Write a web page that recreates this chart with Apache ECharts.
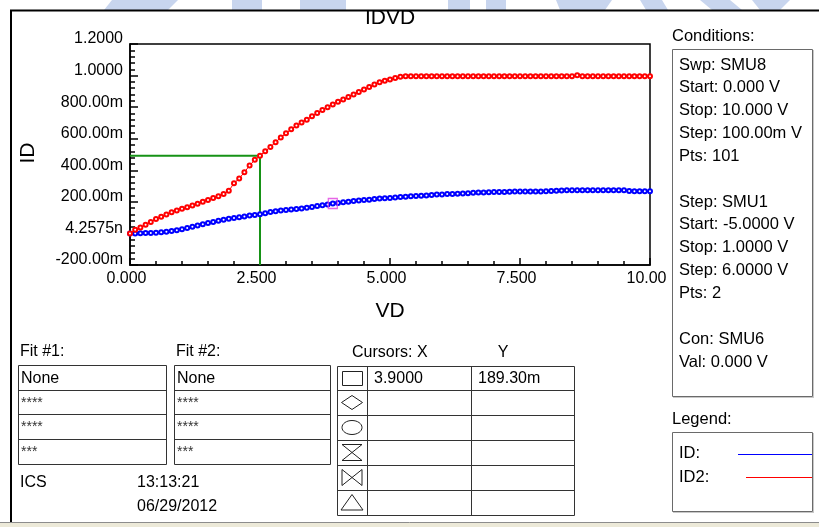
<!DOCTYPE html>
<html>
<head>
<meta charset="utf-8">
<title>IDVD</title>
<script src="https://cdn.jsdelivr.net/npm/echarts@6/dist/echarts.min.js"></script>
<style>
  html, body { margin: 0; padding: 0; background: #fff; }
  #chart { width: 819px; height: 527px; }
</style>
</head>
<body>
<div id="chart"></div>
<script>
// Drain sweep VD (V), 101 points
const vd = [0,0.1,0.2,0.3,0.4,0.5,0.6,0.7,0.8,0.9,1,1.1,1.2,1.3,1.4,1.5,1.6,1.7,1.8,1.9,
  2,2.1,2.2,2.3,2.4,2.5,2.6,2.7,2.8,2.9,3,3.1,3.2,3.3,3.4,3.5,3.6,3.7,3.8,3.9,
  4,4.1,4.2,4.3,4.4,4.5,4.6,4.7,4.8,4.9,5,5.1,5.2,5.3,5.4,5.5,5.6,5.7,5.8,5.9,
  6,6.1,6.2,6.3,6.4,6.5,6.6,6.7,6.8,6.9,7,7.1,7.2,7.3,7.4,7.5,7.6,7.7,7.8,7.9,
  8,8.1,8.2,8.3,8.4,8.5,8.6,8.7,8.8,8.9,9,9.1,9.2,9.3,9.4,9.5,9.6,9.7,9.8,9.9,10];

// Drain current ID (A), first step
const id = [0.000,0.000,0.001,0.002,0.003,0.005,0.008,0.011,0.015,0.020,
  0.027,0.035,0.043,0.051,0.058,0.066,0.073,0.080,0.086,0.093,
  0.098,0.103,0.108,0.113,0.117,0.121,0.128,0.135,0.140,0.145,
  0.149,0.152,0.155,0.158,0.163,0.168,0.174,0.179,0.184,0.1893,
  0.193,0.197,0.201,0.205,0.208,0.211,0.214,0.218,0.221,0.223,
  0.225,0.228,0.230,0.232,0.235,0.237,0.239,0.241,0.243,0.246,
  0.247,0.249,0.250,0.251,0.253,0.255,0.257,0.259,0.260,0.261,
  0.262,0.263,0.263,0.264,0.265,0.266,0.266,0.266,0.266,0.266,
  0.267,0.268,0.270,0.272,0.273,0.274,0.274,0.274,0.274,0.274,
  0.274,0.274,0.274,0.274,0.274,0.274,0.268,0.267,0.267,0.267,
  0.267];

// Drain current ID2 (A), second step (hits compliance near 1 A)
const id2 = [0.000,0.024,0.038,0.055,0.073,0.091,0.106,0.120,0.134,0.145,
  0.156,0.166,0.177,0.188,0.200,0.212,0.224,0.236,0.250,0.270,
  0.318,0.348,0.388,0.430,0.466,0.492,0.520,0.548,0.578,0.607,
  0.634,0.660,0.683,0.702,0.720,0.742,0.763,0.782,0.800,0.817,
  0.834,0.849,0.864,0.880,0.896,0.912,0.928,0.943,0.957,0.967,
  0.975,0.984,0.993,0.996,0.996,0.996,0.996,0.996,0.996,0.996,
  0.996,0.996,0.996,0.996,0.996,0.996,0.996,0.996,0.996,0.996,
  0.996,0.996,0.996,0.996,0.996,0.996,0.996,0.996,0.996,0.996,
  0.996,0.996,0.996,0.996,0.996,0.996,1.002,0.996,0.996,0.996,
  0.996,0.996,0.996,0.996,0.996,0.996,0.996,0.996,0.996,0.996,
  0.996];

const xTickLabels = ['0.000', '2.500', '5.000', '7.500', '10.00'];
const yTickLabels = ['-200.00m', '4.2575n', '200.00m', '400.00m', '600.00m', '800.00m', '1.0000', '1.2000'];

const conditionLines = ['Swp: SMU8', 'Start: 0.000 V', 'Stop: 10.000 V', 'Step: 100.00m V', 'Pts: 101', '',
  'Step: SMU1', 'Start: -5.0000 V', 'Stop: 1.0000 V', 'Step: 6.0000 V', 'Pts: 2', '',
  'Con: SMU6', 'Val: 0.000 V'];
const legendNames = ['ID', 'ID2'];
const fitTitles = ['Fit #1:', 'Fit #2:'];
const fitRows = ['None', '****', '****', '***'];
const cursorShapes = ['square', 'diamond', 'ellipse', 'hourglass', 'bowtie', 'triangle'];
const stampText = ['ICS', '13:13:21', '06/29/2012'];

const greenCursorIndex = 25;   // VD = 2.5 on ID2
const cursorIndex = 39;        // VD = 3.9 on ID

const blue = '#0000ff';
const red = '#ff0000';
const FONT = '"Liberation Sans", Arial, sans-serif';

const chart = echarts.init(document.getElementById('chart'), null, { renderer: 'canvas' });

// ---------- static panel drawing ----------
const g = [];
function txt(t, x, y, o) {
  o = o || {};
  g.push({
    type: 'text', x: x, y: y, rotation: o.rotation || 0, z: o.z || 20, silent: true,
    style: {
      text: t, fill: o.fill || '#000', font: (o.size || 16) + 'px ' + FONT,
      textAlign: o.align || 'left', align: o.align || 'left',
      textVerticalAlign: o.valign || 'middle', verticalAlign: o.valign || 'middle'
    }
  });
}
function ln(x1, y1, x2, y2, stroke, w, z) {
  g.push({ type: 'line', z: z || 20, silent: true, shape: { x1: x1, y1: y1, x2: x2, y2: y2 },
    style: { stroke: stroke, lineWidth: w || 1 } });
}
function box(x, y, w, h, stroke, lw, z) {
  g.push({ type: 'rect', z: z || 20, silent: true, shape: { x: x, y: y, width: w, height: h },
    style: { fill: 'none', stroke: stroke, lineWidth: lw || 1 } });
}
function poly(points, fill, z) {
  g.push({ type: 'polygon', z: z || 30, silent: true, shape: { points: points }, style: { fill: fill } });
}

// window frame
g.push({ type: 'rect', z: 29, silent: true, shape: { x: 0, y: 0, width: 819, height: 10 }, style: { fill: '#fff' } });
// faint logo shapes along the top edge
const wm = '#c8d5ee';
poly([[112, 0], [178, 0], [168, 10], [104, 10]], wm);
poly([[232, 0], [262, 0], [262, 10], [232, 10]], wm);
poly([[300, 0], [346, 0], [346, 10], [300, 10]], wm);
poly([[448, 0], [470, 0], [470, 10], [448, 10]], wm);
poly([[486, 0], [506, 0], [506, 10], [486, 10]], wm);
poly([[556, 0], [612, 0], [605, 10], [560, 10]], wm);
poly([[640, 0], [662, 0], [668, 10], [646, 10]], wm);
poly([[700, 0], [730, 0], [742, 10], [712, 10]], wm);
poly([[752, 0], [790, 0], [780, 10], [760, 10]], wm);
ln(10, 10.5, 819, 10.5, '#000', 2, 31);
ln(11, 10, 11, 522, '#000', 2, 31);
g.push({ type: 'rect', z: 29, silent: true, shape: { x: 0, y: 522, width: 819, height: 5 }, style: { fill: '#ece9d8' } });
ln(0, 522.5, 819, 522.5, '#8c8c8c', 1, 31);

// title and axis names
txt('IDVD', 390, 18, { size: 21, align: 'center', z: 10 });
txt('VD', 390, 311, { size: 21, align: 'center' });
txt('ID', 28, 153, { size: 21, align: 'center', rotation: Math.PI / 2 });

// conditions panel
const PANEL = 16.5;
txt('Conditions:', 672, 36, { size: PANEL });
box(672.5, 49.5, 140, 347, '#6a6a6a', 1);
ln(813.5, 50, 813.5, 398, '#c8c8c8', 1);
ln(673, 397.5, 814, 397.5, '#c8c8c8', 1);
conditionLines.forEach(function (s, i) { if (s) txt(s, 679, 65 + i * 22.85, { size: PANEL }); });

// legend panel
txt('Legend:', 672, 419, { size: PANEL });
box(672.5, 432.5, 140, 79, '#6a6a6a', 1);
ln(813.5, 433, 813.5, 513, '#c8c8c8', 1);
ln(673, 512.5, 814, 512.5, '#c8c8c8', 1);
const legendColors = [blue, red];
const legendLineStart = [738, 746];
legendNames.forEach(function (s, i) {
  const y = 453.5 + i * 23.5;
  txt(s + ':', 679, y, { size: PANEL });
  ln(legendLineStart[i], Math.round(y) + 0.5, 812, Math.round(y) + 0.5, legendColors[i], 1);
});

// fit panels
const fitX = [18, 174], fitW = [148, 156];
const rowY = [365, 390, 414, 439, 464];
fitTitles.forEach(function (t, k) {
  txt(t, fitX[k] + 2, 352);
  box(fitX[k] + 0.5, rowY[0] + 0.5, fitW[k], rowY[4] - rowY[0], '#333', 1);
  for (let r = 1; r < 4; r++) ln(fitX[k], rowY[r] + 0.5, fitX[k] + fitW[k], rowY[r] + 0.5, '#333', 1);
  fitRows.forEach(function (s, r) {
    txt(s, fitX[k] + 3, (rowY[r] + rowY[r + 1]) / 2 + 1, { size: r === 0 ? 16 : 14, fill: r === 0 ? '#000' : '#333' });
  });
});
txt(stampText[0], 20, 483);
txt(stampText[1], 137, 483);
txt(stampText[2], 137, 507);

// cursor table
const cx0 = 337, cx1 = 367, cx2 = 471, cx3 = 574;
const cRows = [366, 390, 415, 440, 465, 490, 515];
txt('Cursors: X', 352, 353);
txt('Y', 503, 353, { align: 'center' });
box(cx0 + 0.5, cRows[0] + 0.5, cx3 - cx0, cRows[6] - cRows[0], '#333', 1);
ln(cx1 + 0.5, cRows[0], cx1 + 0.5, cRows[6], '#333', 1);
ln(cx2 + 0.5, cRows[0], cx2 + 0.5, cRows[6], '#333', 1);
for (let r = 1; r < 6; r++) ln(cx0, cRows[r] + 0.5, cx3, cRows[r] + 0.5, '#333', 1);
txt(vd[cursorIndex].toFixed(4), 374, 378.5);
txt((id[cursorIndex] * 1000).toFixed(2) + 'm', 478, 378.5);
cursorShapes.forEach(function (s, r) {
  const cy = (cRows[r] + cRows[r + 1]) / 2;
  const L = 342, R = 362, C = 352;
  const st = { fill: 'none', stroke: '#222', lineWidth: 1 };
  if (s === 'square') g.push({ type: 'rect', z: 20, silent: true, shape: { x: L + 0.5, y: cy - 6.5, width: 20, height: 14 }, style: st });
  if (s === 'diamond') g.push({ type: 'polygon', z: 20, silent: true, shape: { points: [[C, cy - 7], [R + 0.5, cy], [C, cy + 7], [L - 0.5, cy]] }, style: st });
  if (s === 'ellipse') g.push({ type: 'ellipse', z: 20, silent: true, shape: { cx: C, cy: cy, rx: 10, ry: 7 }, style: st });
  if (s === 'hourglass') g.push({ type: 'polygon', z: 20, silent: true, shape: { points: [[L, cy - 8], [R, cy - 8], [L, cy + 8], [R, cy + 8]] }, style: st });
  if (s === 'bowtie') g.push({ type: 'polygon', z: 20, silent: true, shape: { points: [[L, cy - 8], [R, cy + 8], [R, cy - 8], [L, cy + 8]] }, style: st });
  if (s === 'triangle') g.push({ type: 'polygon', z: 20, silent: true, shape: { points: [[C, cy - 8], [R + 1, cy + 7.5], [L - 1, cy + 7.5]] }, style: st });
});

// ---------- plot ----------
const pair = function (arr) { return vd.map(function (x, i) { return [x, arr[i]]; }); };
const axisBlack = { color: '#000', width: 1.5 };

chart.setOption({
  backgroundColor: '#fff',
  animation: false,
  grid: {
    left: 130, top: 44, width: 520, height: 221,
    show: true, borderColor: '#000', borderWidth: 1.5, backgroundColor: 'transparent',
    containLabel: false, outerBoundsMode: 'none'
  },
  xAxis: {
    type: 'value', min: 0, max: 10, interval: 2.5,
    axisLine: { show: true, onZero: false, lineStyle: axisBlack },
    axisTick: { show: true, inside: true, length: 7, lineStyle: axisBlack },
    minorTick: { show: true, splitNumber: 5, length: 4, lineStyle: axisBlack },
    splitLine: { show: false },
    axisLabel: {
      show: true, margin: 6, color: '#000', fontSize: 16, fontFamily: FONT,
      padding: [0, 7, 0, 0], showMinLabel: true, showMaxLabel: true, hideOverlap: false,
      formatter: function (v) { return xTickLabels[Math.round(v / 2.5)]; }
    }
  },
  yAxis: {
    type: 'value', min: -0.2, max: 1.2, interval: 0.2,
    axisLine: { show: true, onZero: false, lineStyle: axisBlack },
    axisTick: { show: true, inside: true, length: 8, lineStyle: axisBlack },
    minorTick: { show: true, splitNumber: 5, length: 5, lineStyle: axisBlack },
    splitLine: { show: false },
    axisLabel: {
      show: true, margin: 7, color: '#000', fontSize: 16, fontFamily: FONT,
      verticalAlign: 'bottom', lineHeight: 10, showMinLabel: true, showMaxLabel: true, hideOverlap: false,
      formatter: function (v) { return yTickLabels[Math.round((v + 0.2) / 0.2)]; }
    }
  },
  series: [
    {
      name: 'cursor', type: 'line', silent: true, z: 2, symbol: 'none',
      data: [[vd[0], id2[greenCursorIndex]], [vd[greenCursorIndex], id2[greenCursorIndex]], [vd[greenCursorIndex], -0.2]],
      lineStyle: { color: '#169216', width: 2 }
    },
    {
      name: legendNames[0], type: 'line', silent: true, z: 3, data: pair(id),
      symbol: 'emptyCircle', symbolSize: 4, showAllSymbol: true,
      lineStyle: { color: blue, width: 1 }, itemStyle: { color: blue, borderWidth: 0.8 }
    },
    {
      name: legendNames[1], type: 'line', silent: true, z: 4, data: pair(id2),
      symbol: 'emptyCircle', symbolSize: 4, showAllSymbol: true,
      lineStyle: { color: red, width: 1 }, itemStyle: { color: red, borderWidth: 0.8 }
    },
    {
      name: 'marker', type: 'scatter', silent: true, z: 5,
      data: [[vd[cursorIndex], id[cursorIndex]]],
      symbol: 'rect', symbolSize: [9, 10],
      itemStyle: { color: 'rgba(0,0,0,0)', borderColor: '#e040e0', borderWidth: 1.3 }
    }
  ],
  graphic: { elements: g }
});
</script>
</body>
</html>
